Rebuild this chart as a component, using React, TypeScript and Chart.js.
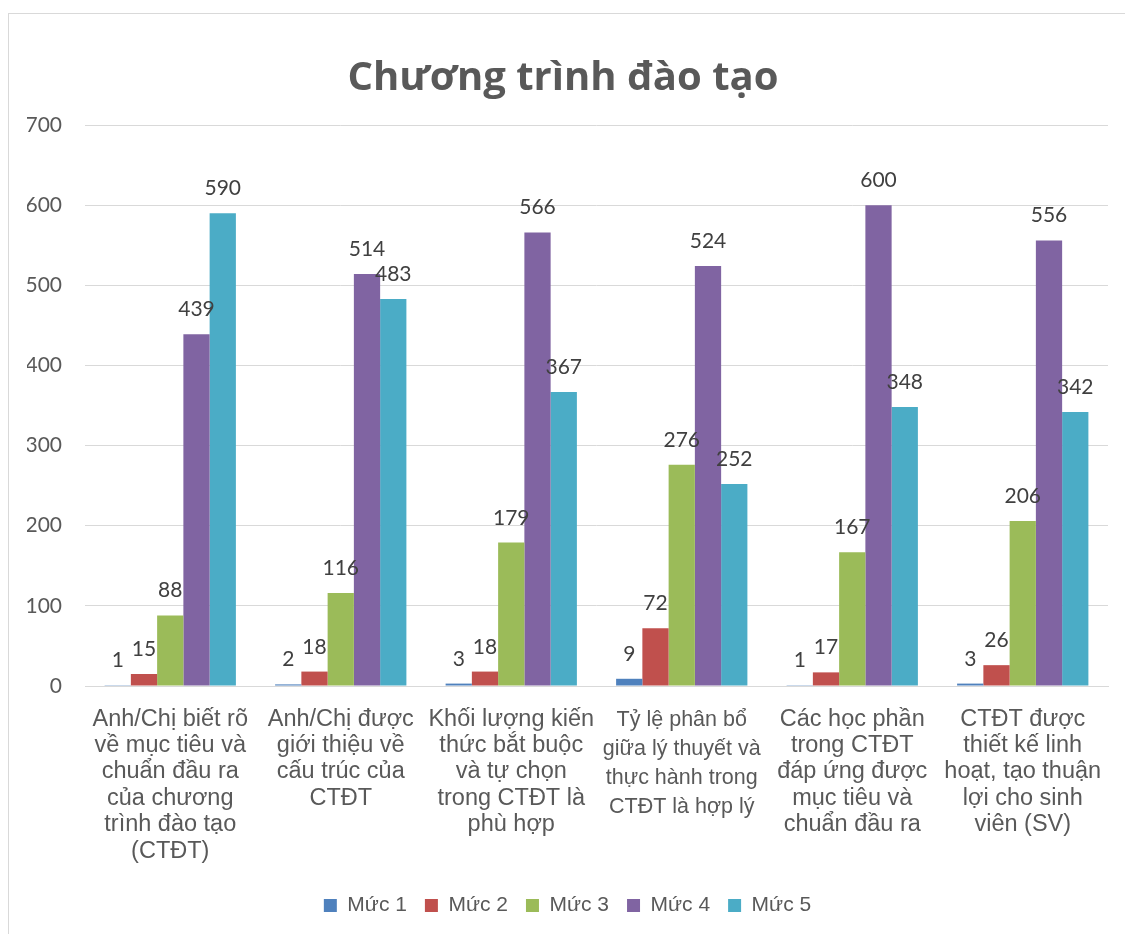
import React, { useEffect, useRef } from "react";
import { Chart, registerables } from "chart.js";

Chart.register(...registerables);

const categories: string[][] = [
  ["Anh/Chị biết rõ", "về mục tiêu và", "chuẩn đầu ra", "của chương", "trình đào tạo", "(CTĐT)"],
  ["Anh/Chị được", "giới thiệu về", "cấu trúc của", "CTĐT"],
  ["Khối lượng kiến", "thức bắt buộc", "và tự chọn", "trong CTĐT là", "phù hợp"],
  ["Tỷ lệ phân bổ", "giữa lý thuyết và", "thực hành trong", "CTĐT là hợp lý"],
  ["Các học phần", "trong CTĐT", "đáp ứng được", "mục tiêu và", "chuẩn đầu ra"],
  ["CTĐT được", "thiết kế linh", "hoạt, tạo thuận", "lợi cho sinh", "viên (SV)"],
];

const seriesNames = ["Mức 1", "Mức 2", "Mức 3", "Mức 4", "Mức 5"];
const muc1 = [1, 2, 3, 9, 1, 3];
const muc2 = [15, 18, 18, 72, 17, 26];
const muc3 = [88, 116, 179, 276, 167, 206];
const muc4 = [439, 514, 566, 524, 600, 556];
const muc5 = [590, 483, 367, 252, 348, 342];
const seriesColors = ["#4F81BD", "#C0504D", "#9BBB59", "#8064A2", "#4BACC6"];

const yMin = 0;
const yMax = 700;
const yStep = 100;

const titleText = "Chương trình đào tạo";

const TEXT = "#595959";
const GRID = "#d9d9d9";

export default function App() {
  const canvasRef = useRef<HTMLCanvasElement | null>(null);

  useEffect(() => {
    if (!canvasRef.current) return;
    const values = [muc1, muc2, muc3, muc4, muc5];

    const frameAndTitle = {
      id: "frameAndTitle",
      beforeDraw(chart: any) {
        const { ctx, width, height } = chart;
        ctx.save();
        ctx.fillStyle = "#ffffff";
        ctx.fillRect(0, 0, width, height);
        ctx.strokeStyle = GRID;
        ctx.lineWidth = 1;
        ctx.strokeRect(0.5, 0.5, width + 10, height + 10);
        ctx.restore();
      },
      afterDraw(chart: any) {
        const { ctx } = chart;
        ctx.save();
        ctx.fillStyle = TEXT;
        ctx.font = "bold 40px 'Open Sans'";
        ctx.textAlign = "center";
        ctx.textBaseline = "alphabetic";
        ctx.fillText(titleText, 555, 77);
        ctx.restore();
      },
    };

    const dataLabels = {
      id: "dataLabels",
      afterDatasetsDraw(chart: any) {
        const { ctx } = chart;
        ctx.save();
        ctx.fillStyle = "#404040";
        ctx.font = "21px Lato";
        ctx.textAlign = "center";
        ctx.textBaseline = "alphabetic";
        chart.data.datasets.forEach((ds: any, di: number) => {
          const meta = chart.getDatasetMeta(di);
          meta.data.forEach((el: any, i: number) => {
            ctx.fillText(String(ds.data[i]), el.x, el.y - 18);
          });
        });
        ctx.restore();
      },
    };

    const chart = new Chart(canvasRef.current, {
      type: "bar",
      data: {
        labels: categories,
        datasets: seriesNames.map((name, i) => ({
          label: name,
          data: values[i],
          backgroundColor: seriesColors[i],
          borderWidth: 0,
          categoryPercentage: 0.77,
          barPercentage: 1,
        })),
      },
      options: {
        animation: false,
        responsive: false,
        maintainAspectRatio: false,
        layout: { padding: { top: 112, left: 19, right: 17, bottom: 8 } },
        plugins: {
          title: { display: false },
          tooltip: { enabled: false },
          legend: {
            display: true,
            position: "bottom",
            labels: {
              boxWidth: 13,
              boxHeight: 13,
              padding: 18,
              color: TEXT,
              font: { family: "'Liberation Sans'", size: 21 },
            },
          },
        },
        scales: {
          x: {
            grid: { display: false, drawTicks: false },
            border: { display: true, color: GRID },
            ticks: {
              color: TEXT,
              padding: 20,
              maxRotation: 0,
              minRotation: 0,
              autoSkip: false,
              font: (c: any) =>
                c.index === 3
                  ? { family: "'Liberation Sans'", size: 21.5, lineHeight: "29px" }
                  : { family: "'Liberation Sans'", size: 23.5, lineHeight: "26.4px" },
            },
            afterFit(scale: any) {
              scale.height = 191;
            },
          },
          y: {
            min: yMin,
            max: yMax,
            grid: { color: GRID, lineWidth: 1, drawTicks: false },
            border: { display: false },
            ticks: {
              stepSize: yStep,
              color: TEXT,
              padding: 23,
              font: { family: "Lato", size: 21 },
            },
            afterFit(scale: any) {
              scale.width = 58;
            },
          },
        },
      },
      plugins: [frameAndTitle, dataLabels],
    } as any);

    return () => chart.destroy();
  }, []);

  return (
    <div style={{ position: "fixed", left: 8, top: 13, width: 1117, height: 921 }}>
      <canvas ref={canvasRef} width={1117} height={921} style={{ display: "block" }} />
    </div>
  );
}
